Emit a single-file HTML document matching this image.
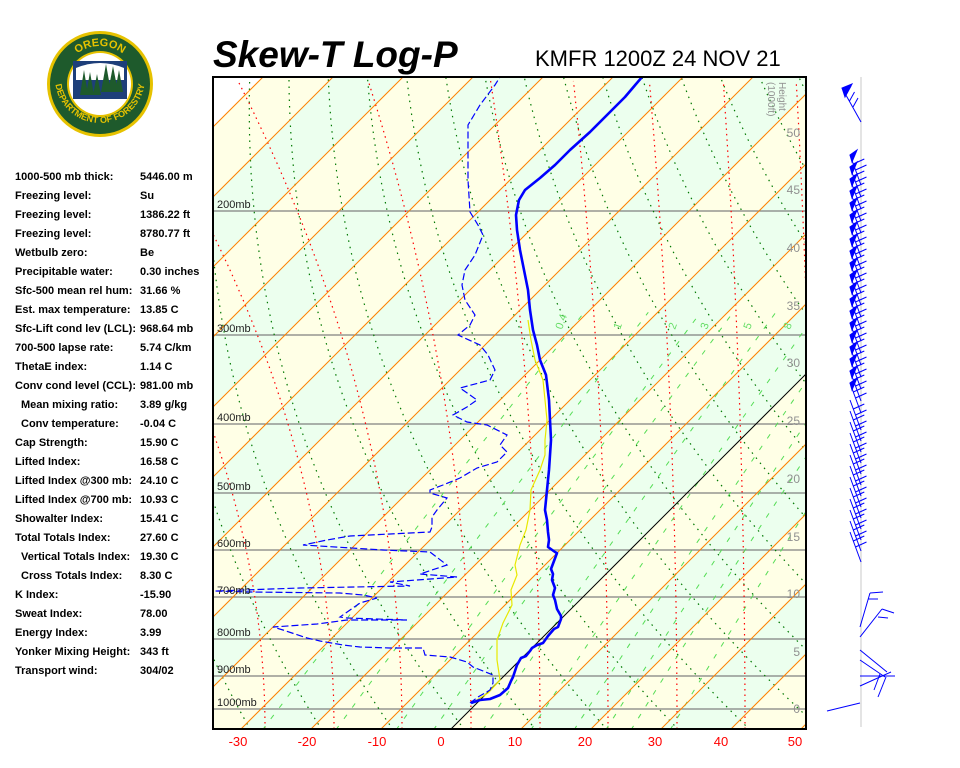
<!DOCTYPE html>
<html><head><meta charset="utf-8"><style>
html,body{margin:0;padding:0;background:#fff;width:960px;height:768px;overflow:hidden}
svg{display:block;font-family:"Liberation Sans",sans-serif}
</style></head><body>
<svg id="s" width="960" height="768" viewBox="0 0 960 768" xmlns="http://www.w3.org/2000/svg">
<defs>
<clipPath id="c"><rect x="213" y="77" width="593" height="652"/></clipPath>
<path id="arcTop" d="M62,84 A38,38 0 0 1 138,84"/>
<path id="arcBot" d="M55,78 A45,45 0 0 0 145,78"/>
</defs>
<g>
<circle cx="100" cy="84" r="53" fill="#e6c200"/>
<circle cx="100" cy="84" r="50" fill="#1e5a2c"/>
<circle cx="100" cy="84" r="33" fill="#e6c200"/>
<circle cx="100" cy="84" r="31" fill="#fff"/>
<path d="M73,61 L127,61 L127,99 L73,99 Z" fill="#1e3f7a"/>
<path d="M76,68 Q100,58 124,68 L124,80 L76,80 Z" fill="#fff"/>
<g fill="#1e5a2c">
<polygon points="80,95 84,70 88,95"/><polygon points="86,95 90,72 94,95"/><polygon points="93,95 97,74 101,95"/>
<polygon points="101,92 106,64 111,92"/><polygon points="108,92 113,66 118,92"/><polygon points="115,92 119,70 123,92"/>
</g>
<text font-size="11" font-weight="bold" fill="#e6c200"><textPath href="#arcTop" startOffset="50%" text-anchor="middle">OREGON</textPath></text>
<text font-size="9" font-weight="bold" fill="#e6c200"><textPath href="#arcBot" startOffset="50%" text-anchor="middle">DEPARTMENT OF FORESTRY</textPath></text>
</g>
<text x="213" y="67" font-size="37" font-weight="bold" font-style="italic" fill="#000">Skew-T Log-P</text>
<text x="535" y="66" font-size="22" fill="#000">KMFR 1200Z 24 NOV 21</text>
<g id="plot" clip-path="url(#c)"></g>
<rect x="213" y="77" width="593" height="652" fill="none" stroke="#000" stroke-width="2"/>
<g id="over"></g>
<line x1="861" y1="77" x2="861" y2="727" stroke="#e4e4e4" stroke-width="2"/>
<g id="wind" stroke="#0000ff" stroke-width="1" fill="#0000ff"></g>
<g font-size="11" font-weight="bold" fill="#000" id="info"></g>
</svg>
<script>
var NS="http://www.w3.org/2000/svg";
function el(par,tag,a,txt){var e=document.createElementNS(NS,tag);for(var k in a)e.setAttribute(k,a[k]);if(txt!==undefined)e.textContent=txt;document.getElementById(par).appendChild(e);return e;}
function yP(p){return 709-311.6*Math.log(1000/p);}
function xT(t,y){return 471+7*t+(709-y);}
for(var k=-12;k<=10;k++){var b=451+70*k;var T=10*k;var col=((T/10)%2===0)?"#ffffe6":"#ecffee";
el("plot","polygon",{points:b+",729 "+(b+70)+",729 "+(b+70+652)+",77 "+(b+652)+",77",fill:col});}
var pl=[[200,211],[300,335],[400,424],[500,493],[600,550],[700,597],[800,639],[900,676],[1000,709]];
pl.forEach(function(q){el("plot","line",{x1:213,x2:806,y1:q[1],y2:q[1],stroke:"#808080","stroke-width":1.3});});
for(var th=230;th<=480;th+=10){var pts=[];for(var p=1070;p>=125;p-=10){var y=yP(p);var t=th*Math.pow(p/1000,0.2857)-273.15;pts.push(xT(t,y).toFixed(1)+","+y.toFixed(1));}
el("plot","polyline",{points:pts.join(" "),fill:"none",stroke:"#007800","stroke-width":1.2,"stroke-dasharray":"1.5,5"});}
var bases=[[129,330],[197,290],[265,250],[334,210],[402,166],[471,104],[540,50],[608,35],[677,28],[745,22],[814,18]];
bases.forEach(function(q){var pts=[];for(var y=729;y>=77;y-=6){var h=(729-y)/652;pts.push((q[0]-q[1]*h*h).toFixed(1)+","+y);}
el("plot","polyline",{points:pts.join(" "),fill:"none",stroke:"#ff0000","stroke-width":1.2,"stroke-dasharray":"1.5,4"});});
[0.4,1,2,3,5,8,12,16,20,28].forEach(function(w){var pts=[];for(var p=1070;p>=280;p-=10){var e=w*p/(622+w);var l=Math.log(e/6.112);var t=243.5*l/(17.67-l);var y=yP(p);pts.push(xT(t,y).toFixed(1)+","+y.toFixed(1));}
el("plot","polyline",{points:pts.join(" "),fill:"none",stroke:"#55dd55","stroke-width":1,"stroke-dasharray":"5,9"});});
for(var k=-12;k<=10;k++){var b=451+70*k;el("plot","line",{x1:b,y1:729,x2:b+652,y2:77,stroke:k===0?"#000":"#ff8000","stroke-width":1});}
[["0.4",562],["1",620],["2",675],["3",707],["5",750],["8",790]].forEach(function(q){el("plot","text",{x:q[1],y:330,"font-size":11,fill:"#66dd66",transform:"rotate(-70 "+q[1]+" 330)"},q[0]);});
var Y=[[472,703],[488,693],[500,680],[497,660],[497,640],[503,623],[507,615],[512,605],[511,590],[517,575],[515,565],[520,545],[526,530],[530,510],[531,490],[540,470],[545,455],[545,440],[547,420],[545,400],[543,380],[535,360],[531,340],[528,320]];
el("plot","polyline",{points:Y.join(" "),fill:"none",stroke:"#e8e800","stroke-width":1.2});
var D=[[470,703],[478,697],[490,690],[493,683],[493,675],[473,667],[467,662],[450,657],[425,655],[423,648],[390,648],[360,647],[343,645],[320,641],[307,638],[283,630],[273,627],[317,624],[347,620],[407,620],[347,618],[340,617],[360,603],[377,598],[363,595],[340,593],[250,592],[215,591],[300,588],[410,586],[390,582],[457,577],[420,574],[447,565],[430,552],[383,550],[303,545],[327,540],[350,536],[430,532],[432,527],[432,517],[437,510],[447,498],[430,493],[430,490],[443,485],[460,478],[477,468],[497,462],[507,452],[500,445],[507,435],[487,425],[467,422],[453,415],[467,407],[477,400],[470,395],[460,388],[490,380],[495,370],[488,355],[480,345],[458,335],[470,325],[475,315],[465,300],[462,285],[465,270],[475,255],[483,235],[478,225],[470,212],[468,180],[468,125],[480,105],[495,85],[500,77]];
el("plot","polyline",{points:D.join(" "),fill:"none",stroke:"#0000ff","stroke-width":1.2,"stroke-dasharray":"7,3"});
var Tm=[[471,703],[480,700],[490,699],[500,695],[508,688],[511,681],[513,677],[517,665],[521,658],[526,656],[530,651],[532,648],[537,645],[543,643],[548,636],[554,629],[558,627],[561,619],[561,616],[557,609],[555,600],[553,595],[555,588],[552,580],[553,574],[551,569],[557,553],[555,552],[548,547],[549,540],[548,532],[547,520],[545,510],[546,500],[548,480],[549,470],[550,455],[551,440],[550,420],[549,400],[546,375],[540,360],[537,345],[533,330],[530,310],[528,290],[524,270],[520,250],[517,230],[516,215],[519,200],[525,190],[540,178],[555,165],[570,150],[590,132],[610,112],[625,97],[642,77]];
el("plot","polyline",{points:Tm.join(" "),fill:"none",stroke:"#0000ff","stroke-width":2.6,"stroke-linejoin":"round"});
pl.forEach(function(q){el("over","text",{x:217,y:q[1]-3,"font-size":11,fill:"#222"},q[0]+"mb");});
var hy=[[50,133],[45,190],[40,248],[35,306],[30,363],[25,421],[20,479],[15,537],[10,594],[5,652],[0,709]];
hy.forEach(function(q){el("over","text",{x:800,y:q[1]+4,"font-size":12,fill:"#909090","text-anchor":"end"},q[0]);});
el("over","text",{x:779,y:82,"font-size":10,fill:"#909090",transform:"rotate(90 779 82)"},"Height");
el("over","text",{x:768,y:82,"font-size":10,fill:"#909090",transform:"rotate(90 768 82)"},"(1000ft)");
[[-30,238],[-20,307],[-10,377],[0,441],[10,515],[20,585],[30,655],[40,721],[50,795]].forEach(function(q){el("over","text",{x:q[1],y:746,"font-size":13,fill:"#ff0000","text-anchor":"middle"},q[0]);});
function L(x1,y1,x2,y2){el("wind","line",{x1:x1,y1:y1,x2:x2,y2:y2});}
function barb(y,flag,n){L(861,y+30,850,y);if(flag)el("wind","polygon",{points:"850,"+y+" 852,"+(y+7)+" 857,"+(y-5)});for(var i=0;i<n;i++){var yy=y+9+i*6,xx=850+(9+i*6)*11/30;L(xx,yy,xx+11,yy-5);}}
L(861,122,842,88);el("wind","polygon",{points:"842,88 845,97 852,84"});for(var i=0;i<3;i++){L(846+i*3.5,95+i*6,851+i*3.5,86+i*6);}
for(var y=155;y<395;y+=12){barb(y,true,2);}
for(var y=400;y<535;y+=11){barb(y,false,2);}
L(860,627,870,593);L(870,593,883,592);L(868,599,878,599);
L(860,637,882,609);L(882,609,894,613);L(878,617,888,618);
L(860,650,887,672);L(860,660,885,677);L(860,676,895,676);L(860,686,891,672);L(878,697,886,677);L(874,690,880,674);
L(860,703,827,711);
var rows=[["1000-500 mb thick:","5446.00 m",15],["Freezing level:","Su",15],["Freezing level:","1386.22 ft",15],["Freezing level:","8780.77 ft",15],["Wetbulb zero:","Be",15],["Precipitable water:","0.30 inches",15],["Sfc-500 mean rel hum:","31.66 %",15],["Est. max temperature:","13.85 C",15],["Sfc-Lift cond lev (LCL):","968.64 mb",15],["700-500 lapse rate:","5.74 C/km",15],["ThetaE index:","1.14 C",15],["Conv cond level (CCL):","981.00 mb",15],["Mean mixing ratio:","3.89 g/kg",21],["Conv temperature:","-0.04 C",21],["Cap Strength:","15.90 C",15],["Lifted Index:","16.58 C",15],["Lifted Index @300 mb:","24.10 C",15],["Lifted Index @700 mb:","10.93 C",15],["Showalter Index:","15.41 C",15],["Total Totals Index:","27.60 C",15],["Vertical Totals Index:","19.30 C",21],["Cross Totals Index:","8.30 C",21],["K Index:","-15.90",15],["Sweat Index:","78.00",15],["Energy Index:","3.99",15],["Yonker Mixing Height:","343 ft",15],["Transport wind:","304/02",15]];
rows.forEach(function(r,i){var y=180+i*19;el("info","text",{x:r[2],y:y},r[0]);el("info","text",{x:140,y:y},r[1]);});
</script>
</body></html>
